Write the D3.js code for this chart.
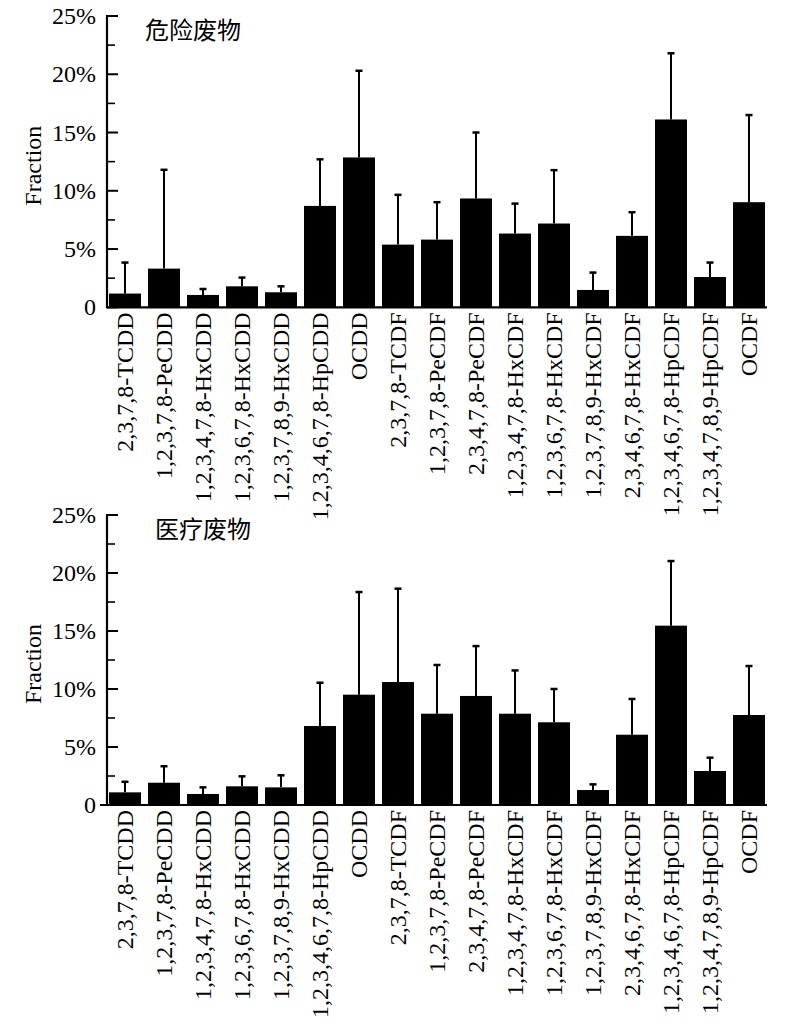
<!DOCTYPE html>
<html>
<head>
<meta charset="utf-8">
<script src="https://cdn.jsdelivr.net/npm/d3@7"></script>
<style>
  html, body { margin: 0; padding: 0; background: #fff; }
  svg { display: block; }
</style>
</head>
<body>
<svg id="chart" width="800" height="1030"></svg>
<script>
// ---- data ----
const categories = [
  "2,3,7,8-TCDD", "1,2,3,7,8-PeCDD", "1,2,3,4,7,8-HxCDD", "1,2,3,6,7,8-HxCDD",
  "1,2,3,7,8,9-HxCDD", "1,2,3,4,6,7,8-HpCDD", "OCDD", "2,3,7,8-TCDF",
  "1,2,3,7,8-PeCDF", "2,3,4,7,8-PeCDF", "1,2,3,4,7,8-HxCDF", "1,2,3,6,7,8-HxCDF",
  "1,2,3,7,8,9-HxCDF", "2,3,4,6,7,8-HxCDF", "1,2,3,4,6,7,8-HpCDF", "1,2,3,4,7,8,9-HpCDF",
  "OCDF"
];
const hazardousMean = [1.18, 3.32, 1.06, 1.80, 1.29, 8.70, 12.86, 5.38, 5.81, 9.34, 6.33, 7.19, 1.49, 6.13, 16.12, 2.60, 9.02];
const hazardousSD   = [2.66, 8.48, 0.51, 0.75, 0.51, 4.00, 7.44, 4.27, 3.21, 5.66, 2.57, 4.58, 1.49, 2.03, 5.68, 1.24, 7.48];
const medicalMean   = [1.09, 1.92, 0.95, 1.61, 1.52, 6.81, 9.51, 10.60, 7.87, 9.40, 7.87, 7.13, 1.29, 6.06, 15.46, 2.93, 7.76];
const medicalSD     = [0.91, 1.42, 0.57, 0.86, 1.04, 3.73, 8.85, 8.05, 4.20, 4.30, 3.73, 2.87, 0.49, 3.08, 5.57, 1.15, 4.22];
const majorTicks = [0, 5, 10, 15, 20, 25];
const minorTicks = [2.5, 7.5, 12.5, 17.5, 22.5];
const tickLabels = ["0", "5%", "10%", "15%", "20%", "25%"];
const panelTitles = ["危险废物", "医疗废物"];
const yTitle = "Fraction";

// ---- drawing ----
const svg = d3.select("#chart");
const serif = "'Liberation Serif', 'Times New Roman', serif";

const x = d3.scaleBand()
  .domain(categories)
  .range([105.5, 768.5])
  .paddingInner(0.18)
  .paddingOuter(0.09);

const panels = [
  { title: panelTitles[0], mean: hazardousMean, sd: hazardousSD, y0: 307.3, y25: 16, xStart: 107 },
  { title: panelTitles[1], mean: medicalMean, sd: medicalSD, y0: 805, y25: 515, xStart: 100 }
];

panels.forEach(p => {
  const y = d3.scaleLinear().domain([0, 25]).range([p.y0, p.y25]);
  const g = svg.append("g");
  const axisX = 107;

  // bars
  g.selectAll("rect.bar").data(categories).join("rect")
    .attr("class", "bar")
    .attr("x", d => x(d))
    .attr("width", x.bandwidth())
    .attr("y", (d, i) => y(p.mean[i]))
    .attr("height", (d, i) => y(0) - y(p.mean[i]))
    .attr("fill", "#000");

  // error bars (upper only)
  g.selectAll("line.err").data(categories).join("line")
    .attr("class", "err")
    .attr("x1", d => x(d) + x.bandwidth() / 2)
    .attr("x2", d => x(d) + x.bandwidth() / 2)
    .attr("y1", (d, i) => y(p.mean[i]))
    .attr("y2", (d, i) => y(p.mean[i] + p.sd[i]))
    .attr("stroke", "#000").attr("stroke-width", 2);
  g.selectAll("line.cap").data(categories).join("line")
    .attr("class", "cap")
    .attr("x1", d => x(d) + x.bandwidth() / 2 - 3.5)
    .attr("x2", d => x(d) + x.bandwidth() / 2 + 3.5)
    .attr("y1", (d, i) => y(p.mean[i] + p.sd[i]))
    .attr("y2", (d, i) => y(p.mean[i] + p.sd[i]))
    .attr("stroke", "#000").attr("stroke-width", 2.5);

  // y axis line
  g.append("line")
    .attr("x1", axisX).attr("x2", axisX)
    .attr("y1", y(25) - 1).attr("y2", y(0) + 1)
    .attr("stroke", "#000").attr("stroke-width", 2.2);
  // x axis line
  g.append("line")
    .attr("x1", p.xStart).attr("x2", 767)
    .attr("y1", y(0)).attr("y2", y(0))
    .attr("stroke", "#000").attr("stroke-width", 2.2);

  // major ticks (inward)
  g.selectAll("line.major").data(majorTicks).join("line")
    .attr("class", "major")
    .attr("x1", axisX).attr("x2", axisX + 11)
    .attr("y1", d => y(d)).attr("y2", d => y(d))
    .attr("stroke", "#000").attr("stroke-width", 2);
  g.selectAll("line.minor").data(minorTicks).join("line")
    .attr("class", "minor")
    .attr("x1", axisX).attr("x2", axisX + 8)
    .attr("y1", d => y(d)).attr("y2", d => y(d))
    .attr("stroke", "#000").attr("stroke-width", 1.6);

  // tick labels
  g.selectAll("text.tick").data(majorTicks).join("text")
    .attr("class", "tick")
    .attr("x", 96)
    .attr("y", d => y(d))
    .attr("dy", "0.34em")
    .attr("text-anchor", "end")
    .attr("font-family", serif)
    .attr("font-size", 24)
    .text((d, i) => tickLabels[i]);

  // y title
  g.append("text")
    .attr("transform", `translate(33,${(y(0) + y(25)) / 2 + 4}) rotate(-90)`)
    .attr("dy", "0.35em")
    .attr("text-anchor", "middle")
    .attr("font-family", serif)
    .attr("font-size", 24)
    .text(yTitle);

  // panel title
  g.append("text")
    .attr("x", p === panels[0] ? 145 : 155)
    .attr("y", y(25) + 23)
    .attr("font-family", "'Noto Sans CJK SC', sans-serif")
    .attr("font-size", 24)
    .text(p.title);

  // category labels
  g.selectAll("text.cat").data(categories).join("text")
    .attr("class", "cat")
    .attr("transform", d => `translate(${x(d) + x.bandwidth() / 2},${y(0) + 5}) rotate(-90)`)
    .attr("dy", "0.35em")
    .attr("text-anchor", "end")
    .attr("font-family", serif)
    .attr("font-size", 24)
    .text(d => d);
});
</script>
</body>
</html>
